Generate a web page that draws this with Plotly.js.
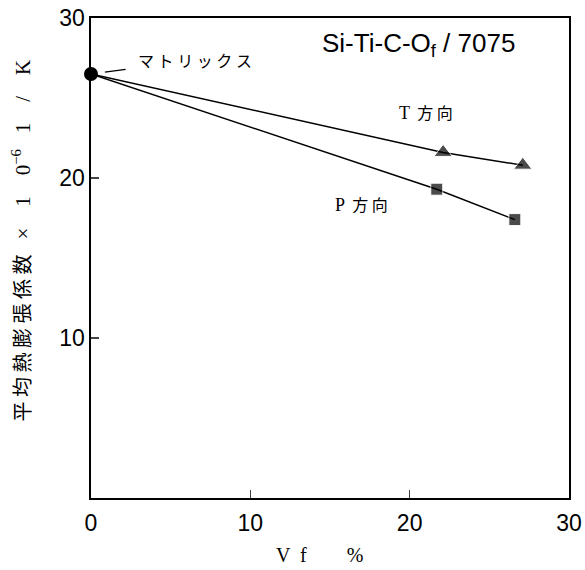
<!DOCTYPE html>
<html><head><meta charset="utf-8">
<script src="https://cdn.plot.ly/plotly-3.0.1.min.js"></script>
<style>html,body{margin:0;padding:0;background:#fff;}</style>
</head><body>
<div id="chart" style="width:585px;height:570px;"></div>
<script>
// Data
const matrixVf = [0];
const matrixCTE = [26.5];
const tVf = [0, 22.1, 27.1];
const tCTE = [26.5, 21.6, 20.8];
const pVf = [0, 21.7, 26.6];
const pCTE = [26.5, 19.3, 17.4];
const xTicks = [0, 10, 20, 30];
const yTicks = [10, 20, 30];

const traces = [
  {x: tVf, y: tCTE, mode: 'lines+markers', cliponaxis: false,
   line: {color: '#000', width: 1.5},
   marker: {symbol: 'triangle-up', size: [0, 16, 16], color: '#000'}},
  {x: pVf, y: pCTE, mode: 'lines+markers', cliponaxis: false,
   line: {color: '#000', width: 1.5},
   marker: {symbol: 'square', size: [0, 12, 12], color: '#000'}},
  {x: matrixVf, y: matrixCTE, mode: 'markers', cliponaxis: false,
   marker: {symbol: 'circle', size: 14, color: '#000'}}
];

const tickFont = {family: 'Liberation Sans, Arial, sans-serif', size: 23, color: '#000'};
const jpFont = {family: 'Noto Sans CJK JP, sans-serif', size: 16, color: '#000'};
const ser = (s, sz) => '<span style="font-family:Liberation Serif;font-size:' + sz + 'px">' + s + '</span>';

const layout = {
  width: 585, height: 570,
  margin: {l: 91, r: 16, t: 18, b: 72},
  paper_bgcolor: '#fff', plot_bgcolor: '#fff',
  showlegend: false,
  xaxis: {range: [0, 30], tickvals: xTicks, ticks: 'inside', ticklen: 8, tickwidth: 1.3,
    showline: true, mirror: true, linecolor: '#000', linewidth: 1.6,
    showgrid: false, zeroline: false, tickfont: tickFont, ticklabelstandoff: 4},
  yaxis: {range: [0, 30], tickvals: yTicks, ticks: 'inside', ticklen: 8, tickwidth: 1.3,
    showline: true, mirror: true, linecolor: '#000', linewidth: 1.6,
    showgrid: false, zeroline: false, tickfont: tickFont, ticklabelstandoff: 0},
  annotations: [
    {x: matrixVf[0], y: matrixCTE[0], xref: 'x', yref: 'y',
     text: 'マ ト リ ッ ク ス', font: jpFont,
     showarrow: true, arrowhead: 0, arrowwidth: 1.3, arrowcolor: '#000',
     ax: 104, ay: -14, standoff: 14, startstandoff: 12, borderpad: 0},
    {x: 21.0, y: 24.1, xref: 'x', yref: 'y', text: ser('T', 18) + '  方 向', font: jpFont, showarrow: false},
    {x: 17.0, y: 18.4, xref: 'x', yref: 'y', text: ser('P', 18) + '  方 向', font: jpFont, showarrow: false},
    {x: 0.686, y: 0.944, xref: 'paper', yref: 'paper', xanchor: 'center', yanchor: 'middle',
     text: 'Si-Ti-C-O<sub>f</sub> / 7075',
     font: {family: 'Liberation Sans, Arial, sans-serif', size: 26, color: '#000'}, showarrow: false},
    {x: -0.146, y: 0.537, xref: 'paper', yref: 'paper', xanchor: 'center', yanchor: 'middle', textangle: -90,
     text: '平 均 熱 膨 張 係 数 ' + ser('  ×    1    0<sup>−6</sup>   1    /    K', 21),
     font: {family: 'Noto Sans CJK JP, sans-serif', size: 20, color: '#000'}, showarrow: false},
    {x: 0.479, y: -0.119, xref: 'paper', yref: 'paper', xanchor: 'center', yanchor: 'middle',
     text: 'V  f        %',
     font: {family: 'Liberation Serif, serif', size: 20, color: '#000'}, showarrow: false}
  ]
};

Plotly.newPlot('chart', traces, layout, {staticPlot: true, displayModeBar: false});
</script>
</body></html>
